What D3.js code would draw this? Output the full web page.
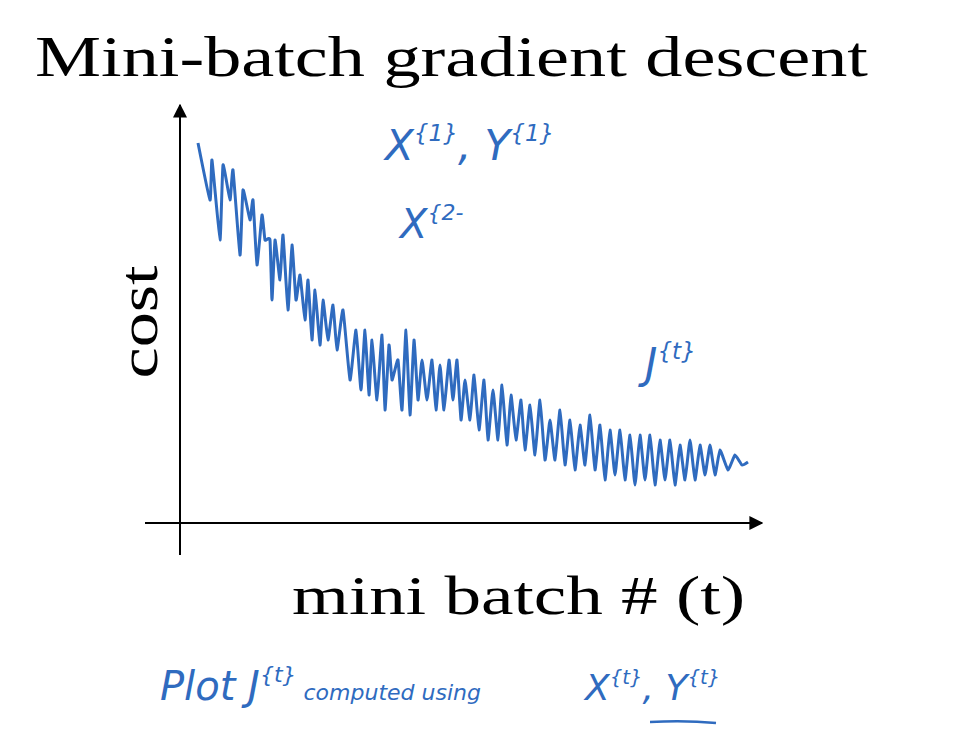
<!DOCTYPE html>
<html>
<head>
<meta charset="utf-8">
<script src="https://cdn.jsdelivr.net/npm/d3@7"></script>
<style>
  body { margin: 0; background: #fff; }
  .hand { fill: #2f6bbf; font-family: "DejaVu Sans", sans-serif; font-style: italic; }
</style>
</head>
<body>
<svg id="chart" width="954" height="746"></svg>
<script>
// mini-batch index and cost
const t = [18,30,32,40,43,50,53,60,63,70,73,77,82,85,90,92,95,100,103,108,112,116,120,125,128,132,135,140,143,148,
  153,157,163,170,176,181,185,189,192,197,202,205,209,212,218,222,226,230,234,238,242,247,252,256,260,264,269,273,277,281,
  285,290,294,299,304,308,313,318,322,327,331,336,341,345,350,355,360,365,370,375,380,385,390,395,400,405,410,415,420,425,
  430,435,440,445,450,455,460,465,470,475,480,485,490,495,500,505,510,515,520,525,530,535,540,548,555,562,568];
const cost = [380,323,363,283,358,323,353,268,333,303,323,258,308,283,283,223,283,243,288,213,278,223,248,203,243,183,233,178,223,183,
  218,173,213,143,193,133,193,128,183,123,188,113,178,143,163,113,193,108,183,123,163,123,163,113,158,113,163,123,163,103,
  143,103,148,93,143,83,133,83,138,78,128,83,123,73,118,68,123,63,103,63,113,58,103,53,98,58,108,53,98,43,
  93,48,93,43,88,38,88,43,88,38,83,43,83,38,78,43,83,43,78,48,78,48,73,53,68,58,61];

const svg = d3.select('#chart');
const x = d3.scaleLinear().domain([0, 580]).range([180, 760]);
const y = d3.scaleLinear().domain([0, 418]).range([523, 105]);
const blue = '#2f6bbf';

// axes (hand-drawn style, no ticks)
svg.append('defs').append('marker')
  .attr('id', 'arrow').attr('viewBox', '0 0 10 10').attr('refX', 9).attr('refY', 5)
  .attr('markerWidth', 7).attr('markerHeight', 7).attr('orient', 'auto-start-reverse')
  .append('path').attr('d', 'M0,0L10,5L0,10z').attr('fill', '#000');
svg.append('line').attr('x1', 180).attr('y1', 555).attr('x2', 180).attr('y2', 105)
  .attr('stroke', '#000').attr('stroke-width', 2).attr('marker-end', 'url(#arrow)');
svg.append('line').attr('x1', 145).attr('y1', 523).attr('x2', 762).attr('y2', 523)
  .attr('stroke', '#000').attr('stroke-width', 2).attr('marker-end', 'url(#arrow)');

const line = d3.line().x(d => x(d[0])).y(d => y(d[1])).curve(d3.curveCardinal.tension(0.6));
svg.append('path').datum(d3.zip(t, cost)).attr('d', line)
  .attr('fill', 'none').attr('stroke', blue).attr('stroke-width', 3).attr('stroke-linejoin', 'round');

// printed labels
svg.append('text').attr('x', 35).attr('y', 76).text('Mini-batch gradient descent')
  .attr('font-family', 'Liberation Serif, serif').attr('font-size', 58)
  .attr('textLength', 833).attr('lengthAdjust', 'spacingAndGlyphs');
svg.append('text').attr('transform', 'translate(157,322) rotate(-90)').attr('text-anchor', 'middle')
  .text('cost').attr('font-family', 'Liberation Serif, serif').attr('font-size', 54)
  .attr('textLength', 113).attr('lengthAdjust', 'spacingAndGlyphs');
svg.append('text').attr('x', 292).attr('y', 614).text('mini batch # (t)')
  .attr('font-family', 'Liberation Serif, serif').attr('font-size', 54)
  .attr('textLength', 453).attr('lengthAdjust', 'spacingAndGlyphs');

// handwritten notes
function note(px, py, parts, size) {
  const tx = svg.append('text').attr('class', 'hand').attr('x', px).attr('y', py).attr('font-size', size);
  parts.forEach(p => {
    tx.append('tspan').text(p[0])
      .attr('font-size', p[1] ? size * 0.55 : (p[3] || size))
      .attr('dy', p[1] ? -size * 0.45 : (p[2] ? size * 0.45 : 0));
  });
}
note(385, 160, [['X'], ['{1}', 1], [', Y', 0, 1], ['{1}', 1]], 42);
note(400, 238, [['X'], ['{2-', 1]], 40);
note(645, 378, [['J'], ['{t}', 1]], 42);
note(160, 700, [['Plot  J'], ['{t}', 1], ['  computed using', 0, 1, 22]], 40);
note(585, 700, [['X'], ['{t}', 1], [', Y', 0, 1], ['{t}', 1]], 36);
svg.append('path').attr('d', 'M650,722 Q685,720 716,723').attr('fill', 'none')
  .attr('stroke', blue).attr('stroke-width', 2.5);
</script>
</body>
</html>
